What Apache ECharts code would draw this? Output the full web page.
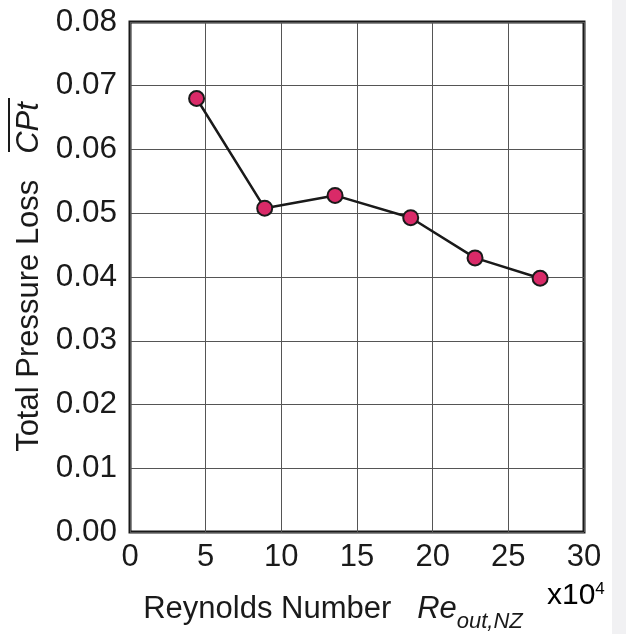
<!DOCTYPE html>
<html>
<head>
<meta charset="utf-8">
<script src="https://cdn.jsdelivr.net/npm/echarts@6/dist/echarts.min.js"></script>
<style>
  html, body { margin: 0; padding: 0; background: #ffffff; }
  #chart { width: 626px; height: 634px; }
</style>
</head>
<body>
<div id="chart"></div>
<script>
// Reynolds number (x10^4) against mean total pressure loss coefficient
const reynolds = [4.4, 8.9, 13.55, 18.55, 22.8, 27.1];
const pressureLoss = [0.068, 0.0508, 0.0528, 0.0493, 0.0430, 0.0398];
const xTicks = [0, 5, 10, 15, 20, 25, 30];
const yTicks = [0.00, 0.01, 0.02, 0.03, 0.04, 0.05, 0.06, 0.07, 0.08];

const FONT = '"Liberation Sans", Arial, sans-serif';
const INK = '#1a1a1a';

const chart = echarts.init(document.getElementById('chart'), null, { renderer: 'canvas' });

chart.setOption({
  backgroundColor: '#ffffff',
  animation: false,
  grid: {
    left: 130, right: 42, top: 22, bottom: 102,
    outerBoundsMode: 'none', containLabel: false,
    show: true, borderColor: INK, borderWidth: 3, backgroundColor: 'transparent'
  },
  xAxis: {
    type: 'value',
    min: xTicks[0],
    max: xTicks[xTicks.length - 1],
    interval: 5,
    axisLine: { show: false },
    axisTick: { show: false },
    splitLine: { show: true, lineStyle: { color: '#555555', width: 1 } },
    axisLabel: { color: INK, fontFamily: FONT, fontSize: 31, margin: 10 },
    name: '{n|Reynolds Number   }{it|Re}{sub|out,NZ}',
    nameLocation: 'middle',
    nameGap: 62,
    nameTextStyle: {
      padding: [0, 48, 0, 0],
      rich: {
        n: { fontFamily: FONT, fontSize: 31, color: INK, verticalAlign: 'bottom', padding: [0, 0, 8, 0] },
        it: { fontFamily: FONT, fontSize: 31, fontStyle: 'italic', color: INK, verticalAlign: 'bottom', padding: [0, 0, 8, 0] },
        sub: { fontFamily: FONT, fontSize: 22, fontStyle: 'italic', color: INK, verticalAlign: 'bottom' }
      }
    }
  },
  yAxis: {
    type: 'value',
    min: yTicks[0],
    max: yTicks[yTicks.length - 1],
    interval: 0.01,
    axisLine: { show: false },
    axisTick: { show: false },
    splitLine: { show: true, lineStyle: { color: '#555555', width: 1 } },
    axisLabel: { color: INK, fontFamily: FONT, fontSize: 31.5, margin: 13, formatter: v => v.toFixed(2) },
    name: '{n|Total Pressure Loss   }{it|CPt}',
    nameLocation: 'middle',
    nameRotate: 90,
    nameGap: 82,
    nameTextStyle: {
      rich: {
        n: { fontFamily: FONT, fontSize: 31, color: INK },
        it: { fontFamily: FONT, fontSize: 31, fontStyle: 'italic', color: INK }
      }
    }
  },
  graphic: [
    {
      type: 'rect', left: 612, top: 0, z: -10,
      shape: { width: 14, height: 634 },
      style: { fill: '#f1f1f3' }
    },
    {
      type: 'line', z: 10,
      shape: { x1: 9, y1: 98, x2: 9, y2: 152 },
      style: { stroke: INK, lineWidth: 2 }
    },
    {
      type: 'text', left: 547, top: 581,
      style: {
        text: '{b|x10}{sup|4}',
        rich: {
          b: { fontFamily: FONT, fontSize: 30, color: INK },
          sup: { fontFamily: FONT, fontSize: 17, color: INK, verticalAlign: 'top' }
        }
      }
    }
  ],
  series: [{
    type: 'line',
    data: reynolds.map((x, i) => [x, pressureLoss[i]]),
    symbol: 'circle',
    symbolSize: 15,
    lineStyle: { color: INK, width: 2.5 },
    itemStyle: { color: '#d92a68', borderColor: INK, borderWidth: 2 },
    z: 5
  }]
});
</script>
</body>
</html>
